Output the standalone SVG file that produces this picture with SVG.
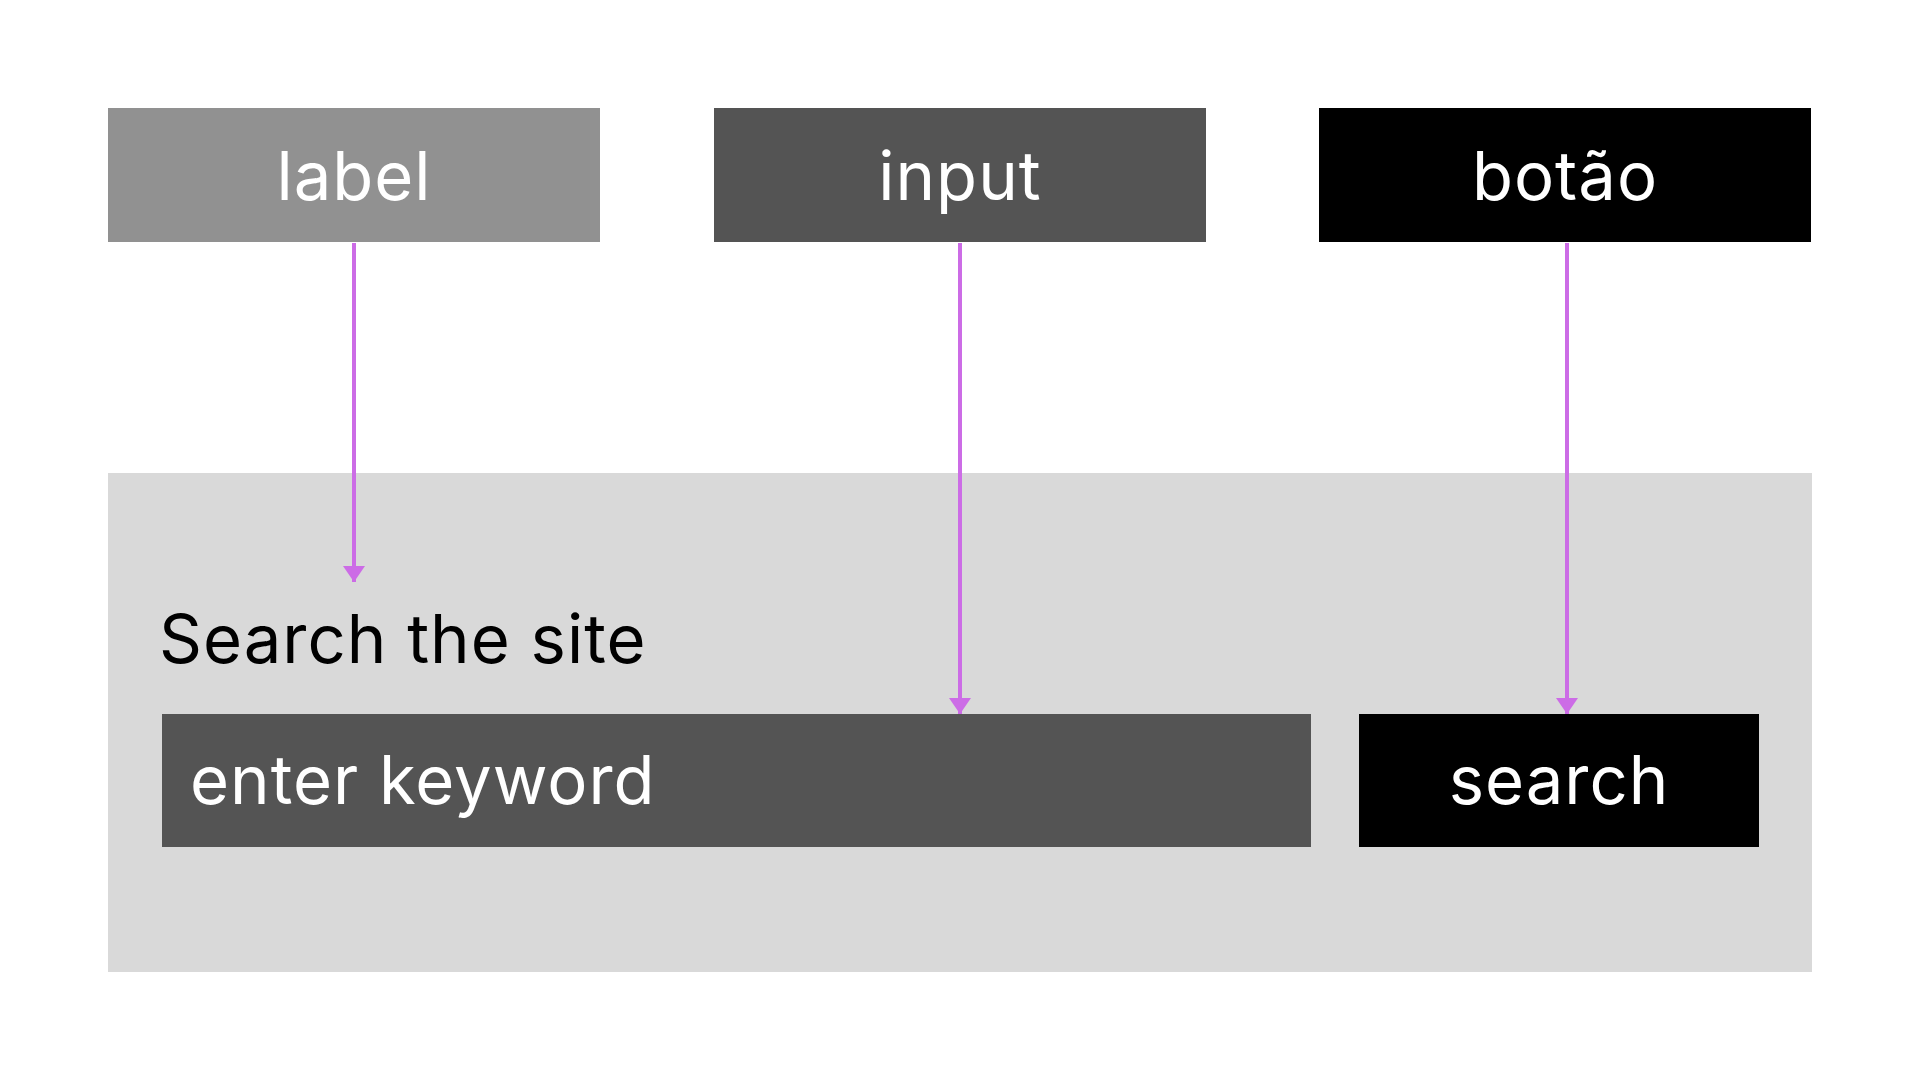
<svg xmlns="http://www.w3.org/2000/svg" width="1920" height="1080" viewBox="0 0 1920 1080">
<style>
.t{font-family:Inter,"Liberation Sans",sans-serif;font-size:67px;letter-spacing:1px}
.w{fill:#ffffff}
.c{text-anchor:middle}
.k{fill:#000000}
.conn{stroke:#cc6ce6;stroke-width:4;fill:none}
</style>
<defs>
<marker id="ah" markerWidth="4" markerHeight="5.5" refX="4" refY="2.75" orient="auto" markerUnits="strokeWidth">
<path d="M0,0 L4,2.75 L0,5.5 Z" fill="#cc6ce6"/>
</marker>
</defs>
<rect width="1920" height="1080" fill="#ffffff"/>
<g id="panel">
<rect x="108" y="473" width="1704" height="499" fill="#d9d9d9"/>
</g>
<g id="label">
<rect x="108" y="108" width="492" height="134" fill="#919191"/>
<text class="t w c" x="354" y="200">label</text>
</g>
<g id="input">
<rect x="714" y="108" width="492" height="134" fill="#545454"/>
<text class="t w c" x="960" y="200">input</text>
</g>
<g id="botao">
<rect x="1319" y="108" width="492" height="134" fill="#000000"/>
<text class="t w c" x="1565" y="200">botão</text>
</g>
<g id="search-label">
<text class="t k" x="159" y="663">Search the site</text>
</g>
<g id="keyword-input">
<rect x="162" y="714" width="1149" height="133" fill="#545454"/>
<text class="t w" x="190" y="804">enter keyword</text>
</g>
<g id="search-button">
<rect x="1359" y="714" width="400" height="133" fill="#000000"/>
<text class="t w c" x="1559" y="804">search</text>
</g>
<g id="connectors">
<line class="conn" x1="354" y1="243" x2="354" y2="582" marker-end="url(#ah)"/>
<line class="conn" x1="960" y1="243" x2="960" y2="714" marker-end="url(#ah)"/>
<line class="conn" x1="1567" y1="243" x2="1567" y2="714" marker-end="url(#ah)"/>
</g>
</svg>
